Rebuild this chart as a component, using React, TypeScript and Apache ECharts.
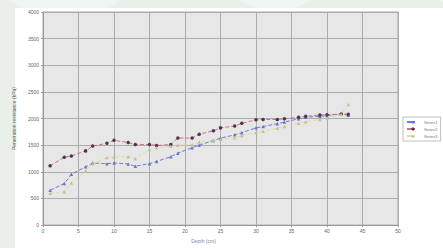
import React, { useEffect, useRef } from "react";
import * as echarts from "echarts";

const depths = [1, 3, 4, 6, 7, 9, 10, 12, 13, 15, 16, 18, 19, 21, 22, 24, 25, 27, 28, 30, 31, 33, 34, 36, 37, 39, 40, 42, 43];
const series1 = [654, 780, 955, 1094, 1166, 1153, 1166, 1148, 1105, 1153, 1195, 1285, 1351, 1454, 1501, 1586, 1634, 1694, 1735, 1825, 1850, 1904, 1933, 1995, 2023, 2041, 2054, 2085, 2060];
const series2 = [1112, 1274, 1297, 1393, 1483, 1537, 1591, 1550, 1513, 1513, 1495, 1513, 1634, 1634, 1706, 1771, 1825, 1861, 1910, 1977, 1982, 1982, 1995, 2023, 2041, 2067, 2072, 2085, 2080];
const series3 = [600, 625, 790, 1020, 1150, 1270, 1280, 1285, 1245, 1420, 1450, 1480, 1500, 1510, 1560, 1590, 1610, 1640, 1680, 1740, 1760, 1820, 1850, 1910, 1940, 1980, 2010, 2080, 2265];
const seriesNames = ["Series1", "Series2", "Series3"];

export default function App() {
  const ref = useRef<HTMLDivElement>(null);
  useEffect(() => {
    if (!ref.current) return;
    const chart = echarts.init(ref.current, null, { renderer: "svg" });
    const pair = (vals: number[]) => depths.map((d, i) => [d, vals[i]]);
    const label = { fontSize: 5, color: "#666", fontFamily: "Liberation Sans", formatter: (v: number) => String(v) };
    chart.setOption({
      animation: false,
      grid: {
        left: 43, right: 45, top: 12, bottom: 14,
        show: true, backgroundColor: "#e7e7e7", borderColor: "#a8a8a8", borderWidth: 1,
      },
      legend: {
        orient: "vertical", left: 403, top: 117,
        itemWidth: 12, itemHeight: 4, itemGap: 3, padding: [3, 3, 3, 3],
        backgroundColor: "#ffffff", borderColor: "#999", borderWidth: 0.6,
        textStyle: { fontSize: 4, color: "#777", fontFamily: "Liberation Sans" },
        data: seriesNames,
      },
      xAxis: {
        type: "value", min: 0, max: 50, interval: 5,
        name: "Depth (cm)", nameLocation: "middle", nameGap: 8,
        nameTextStyle: { fontSize: 5, color: "#888", fontFamily: "Liberation Sans", padding: [0, 34, 0, 0] },
        axisLine: { show: true, lineStyle: { color: "#999", width: 1 } },
        axisTick: { show: true, length: 2, lineStyle: { color: "#999" } },
        axisLabel: { ...label, margin: 3 },
        splitLine: { show: true, lineStyle: { color: "#acacac", width: 1 } },
      },
      yAxis: {
        type: "value", min: 0, max: 4000, interval: 500,
        name: "Penetration resistance (kPa)", nameLocation: "middle", nameGap: 20, nameRotate: 90,
        nameTextStyle: { fontSize: 5, color: "#555", fontFamily: "Liberation Sans" },
        axisLine: { show: true, lineStyle: { color: "#999", width: 1 } },
        axisTick: { show: true, length: 2, lineStyle: { color: "#999" } },
        axisLabel: { ...label, margin: 4 },
        splitLine: { show: true, lineStyle: { color: "#acacac", width: 1 } },
      },
      series: [
        {
          name: seriesNames[0], type: "line", data: pair(series1),
          symbol: "triangle", symbolSize: 3.5,
          lineStyle: { color: "#6d7ce0", width: 1, type: "dashed" },
          itemStyle: { color: "#6a78b8" },
        },
        {
          name: seriesNames[1], type: "line", data: pair(series2),
          symbol: "circle", symbolSize: 3.5,
          lineStyle: { color: "#d07080", width: 1, type: "dashed" },
          itemStyle: { color: "#4f3652" },
        },
        {
          name: seriesNames[2], type: "line", data: pair(series3),
          symbol: "triangle", symbolSize: 3.5,
          lineStyle: { color: "#e2de98", width: 1, type: "dashed" },
          itemStyle: { color: "#c0c09a" },
        },
      ],
    });
    return () => chart.dispose();
  }, []);
  return (
    <div style={{ position: "fixed", left: 0, top: 0, width: 443, height: 248, background: "#e9f0ea", overflow: "hidden" }}>
      <div style={{ position: "absolute", left: -20, top: -150, width: 170, height: 170, borderRadius: "50%", background: "#f1f5f1" }} />
      <div style={{ position: "absolute", left: 200, top: -150, width: 150, height: 160, borderRadius: "50%", background: "#f1f5f1" }} />
      <div style={{ position: "absolute", left: 400, top: -150, width: 150, height: 160, borderRadius: "50%", background: "#f1f5f1" }} />
      <div style={{ position: "absolute", left: 15, top: 8, right: 0, bottom: 0, background: "#ffffff" }} />
      <div ref={ref} style={{ position: "absolute", left: 0, top: 0, width: 443, height: 248 }} />
    </div>
  );
}
